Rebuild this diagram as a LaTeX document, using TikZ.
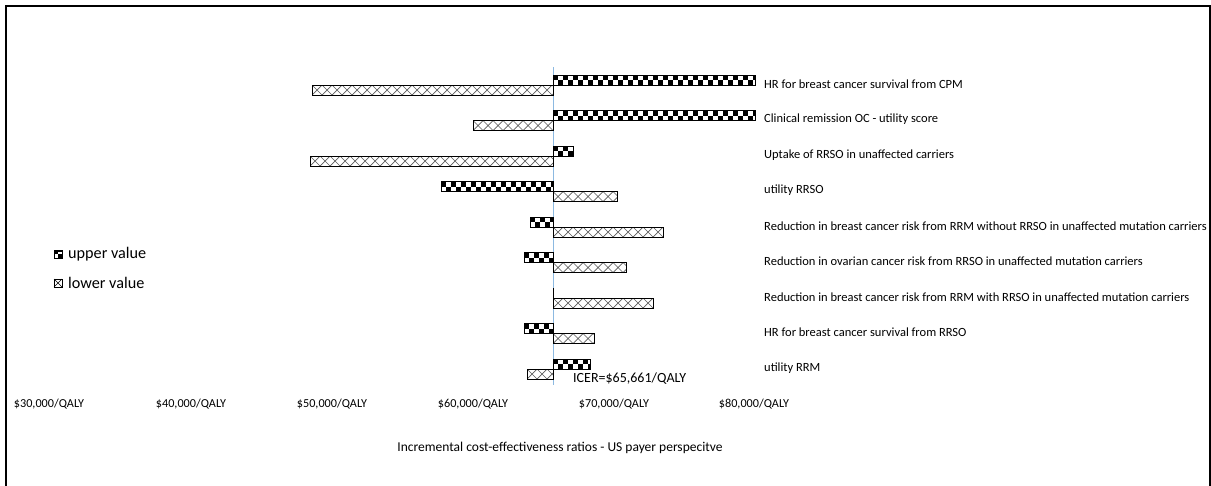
\documentclass[tikz,border=0pt]{standalone}
\usepackage{fontspec}
\setmainfont{Carlito}
\definecolor{hatchgray}{RGB}{90,90,90}
\definecolor{icerblue}{RGB}{140,185,225}
\newcommand\ChkBar[3]{% x1, x2, ytop
  \begin{scope}
    \clip (#1,#3) rectangle (#2,#3+10);
    \foreach \k in {0,...,42} {
      \fill (#1+\k*10,#3) rectangle ++(5,5);
      \fill (#1+\k*10+5,#3+5) rectangle ++(5,5);
    }
  \end{scope}
  \draw[barline] (#1,#3) rectangle (#2,#3+10);
}
\newcommand\XBar[3]{% x1, x2, ytop
  \begin{scope}
    \clip (#1,#3) rectangle (#2,#3+10);
    \foreach \k in {0,...,42} {
      \draw[hatchline] (#1+\k*10,#3) -- ++(10,10) (#1+\k*10,#3+10) -- ++(10,-10);
    }
  \end{scope}
  \draw[barline] (#1,#3) rectangle (#2,#3+10);
}
\begin{document}
\begin{tikzpicture}[x=1pt,y=-1pt,
  barline/.style={draw=black,line width=1pt},
  hatchline/.style={draw=hatchgray,line width=0.7pt},
  lbl/.style={anchor=west,inner sep=0pt,font=\fontsize{12.5}{14}\selectfont},
  tick/.style={inner sep=0pt,font=\fontsize{12.2}{14}\selectfont},
  leg/.style={anchor=west,inner sep=0pt,font=\fontsize{16.2}{19}\selectfont}]
\useasboundingbox (0,0) rectangle (1211,485);
% frame
\draw[line width=2pt] (6,486) -- (6,6) -- (1209.5,6) -- (1209.5,486);
% reference line at ICER
\draw[icerblue,line width=1pt] (553,67) -- (553,385);
% bars: upper (checker) above boundary b, lower (cross) below
\ChkBar{553}{755}{75}      \XBar{312}{553}{85}
\ChkBar{553}{755}{110.5}   \XBar{473}{553}{120.5}
\ChkBar{553}{573}{146}     \XBar{310}{553}{156}
\ChkBar{441}{553}{181.5}   \XBar{553}{617}{191.5}
\ChkBar{530}{553}{217}     \XBar{553}{663}{227}
\ChkBar{524}{553}{252.5}   \XBar{553}{626}{262.5}
\draw[barline] (553,288) -- (553,298); \XBar{553}{653}{298}
\ChkBar{524}{553}{323.5}   \XBar{553}{594}{333.5}
\ChkBar{553}{590}{359}     \XBar{527}{553}{369}
% row labels
\node[lbl] (r1) at (764,84) {HR for breast cancer survival from CPM};
\node[lbl] (r2) at (764,119.5) {Clinical remission OC - utility score};
\node[lbl] (r3) at (764,155) {Uptake of RRSO in unaffected carriers};
\node[lbl] (r4) at (764,190.5) {utility RRSO};
\node[lbl] (r5) at (764,226) {Reduction in breast cancer risk from RRM without RRSO in unaffected mutation carriers};
\node[lbl] (r6) at (764,261.5) {Reduction in ovarian cancer risk from RRSO in unaffected mutation carriers};
\node[lbl] (r7) at (764,297) {Reduction in breast cancer risk from RRM with RRSO in unaffected mutation carriers};
\node[lbl] (r8) at (764,332.5) {HR for breast cancer survival from RRSO};
\node[lbl] (r9) at (764,368) {utility RRM};
% ICER label
\node[anchor=west,inner sep=0pt,font=\fontsize{14}{16}\selectfont] (icer) at (573,379) {ICER=\$65,661/QALY};
% axis tick labels
\node[tick] (t30) at (49,404) {\$30,000/QALY};
\node[tick] (t40) at (191,404) {\$40,000/QALY};
\node[tick] (t50) at (332,404) {\$50,000/QALY};
\node[tick] (t60) at (473,404) {\$60,000/QALY};
\node[tick] (t70) at (614,404) {\$70,000/QALY};
\node[tick] (t80) at (754,404) {\$80,000/QALY};
% axis title
\node[inner sep=0pt,font=\fontsize{13.5}{16}\selectfont] (title) at (560,448) {Incremental cost-effectiveness ratios - US payer perspecitve};
% legend
\begin{scope}
  \clip (54,250) rectangle (62,258);
  \fill (54,250) rectangle (58,254); \fill (58,254) rectangle (62,258);
  \fill (54,250) rectangle (62,252);
\end{scope}
\draw[line width=0.9pt] (54,250) rectangle (62,258);
\node[leg] (lu) at (68,254) {upper value};
\draw[line width=0.9pt] (54,279) rectangle (62,287);
\draw[line width=0.6pt] (54,279) -- (62,287) (54,287) -- (62,279);
\node[leg] (ll) at (68,283) {lower value};
\end{tikzpicture}
\end{document}
